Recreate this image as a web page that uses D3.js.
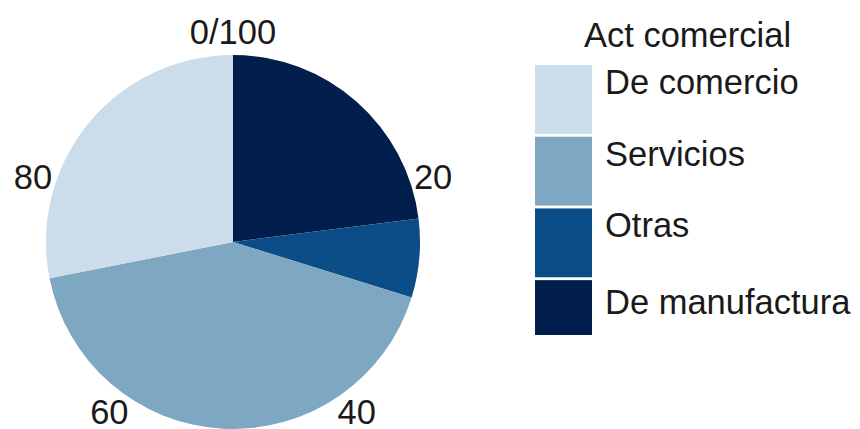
<!DOCTYPE html>
<html>
<head>
<meta charset="utf-8">
<script src="https://cdn.jsdelivr.net/npm/d3@7"></script>
<style>
  body { margin: 0; background: #fff; }
  text { font-family: "Liberation Sans", Arial, sans-serif; fill: #1a1a1a; }
</style>
</head>
<body>
<div id="grafico"></div>
<script>
const WIDTH = 860;
const HEIGHT = 429;

// legend order (top to bottom)
const categories = ["De comercio", "Servicios", "Otras", "De manufactura"];
const shares = [28.1, 42.1, 6.8, 23.0];
const colors = ["#cbdcea", "#7ea7c1", "#0b4d86", "#021e4c"];
const tickValues = [0, 20, 40, 60, 80];
const tickLabels = ["0/100", "20", "40", "60", "80"];
const legendTitle = "Act comercial";

let svg = d3.select("#grafico")
    .append("svg")
    .attr("width", WIDTH)
    .attr("height", HEIGHT);

const cx = 233, cy = 242, radius = 187;
const fontSize = "34.5px";

// ggplot stacks in reverse, starting at 12 o'clock clockwise
let slices = categories.map((c, i) => ({cat: c, value: shares[i], color: colors[i]})).reverse();
let total = d3.sum(slices, d => d.value);

let theta = d3.scaleLinear().domain([0, total]).range([0, 2 * Math.PI]);

let acc = 0;
slices.forEach(d => { d.start = acc; acc += d.value; d.end = acc; });

let arc = d3.arc().innerRadius(0).outerRadius(radius);

let pie = svg.append("g").attr("transform", `translate(${cx},${cy})`);

pie.selectAll("path")
    .data(slices)
    .enter()
    .append("path")
    .attr("d", d => arc({startAngle: theta(d.start), endAngle: theta(d.end)}))
    .style("fill", d => d.color);

// theta axis labels
let labR = radius * 0.45 / 0.4;
pie.selectAll(".tick")
    .data(tickValues)
    .enter()
    .append("text")
    .attr("class", "tick")
    .attr("x", (d) => labR * Math.sin(theta(d / 100 * total)))
    .attr("y", (d) => -labR * Math.cos(theta(d / 100 * total)))
    .attr("text-anchor", "middle")
    .attr("dominant-baseline", "central")
    .style("font-size", fontSize)
    .text((d, i) => tickLabels[i]);

// legend
let legend = svg.append("g");

legend.append("text")
    .attr("x", 584)
    .attr("y", 47)
    .style("font-size", fontSize)
    .text(legendTitle);

let keyY = d3.scaleBand().domain(categories).range([65, 349]).paddingInner(0.04);

legend.selectAll("rect")
    .data(categories)
    .enter()
    .append("rect")
    .attr("x", 535)
    .attr("y", d => keyY(d))
    .attr("width", 57)
    .attr("height", d => Math.min(keyY.bandwidth(), 335 - keyY(d)))
    .style("fill", (d, i) => colors[i]);

legend.selectAll(".lab")
    .data(categories)
    .enter()
    .append("text")
    .attr("class", "lab")
    .attr("x", 605)
    .attr("y", (d, i) => keyY(d) + (i === categories.length - 1 ? 34 : 29))
    .style("font-size", fontSize)
    .text(d => d);
</script>
</body>
</html>
